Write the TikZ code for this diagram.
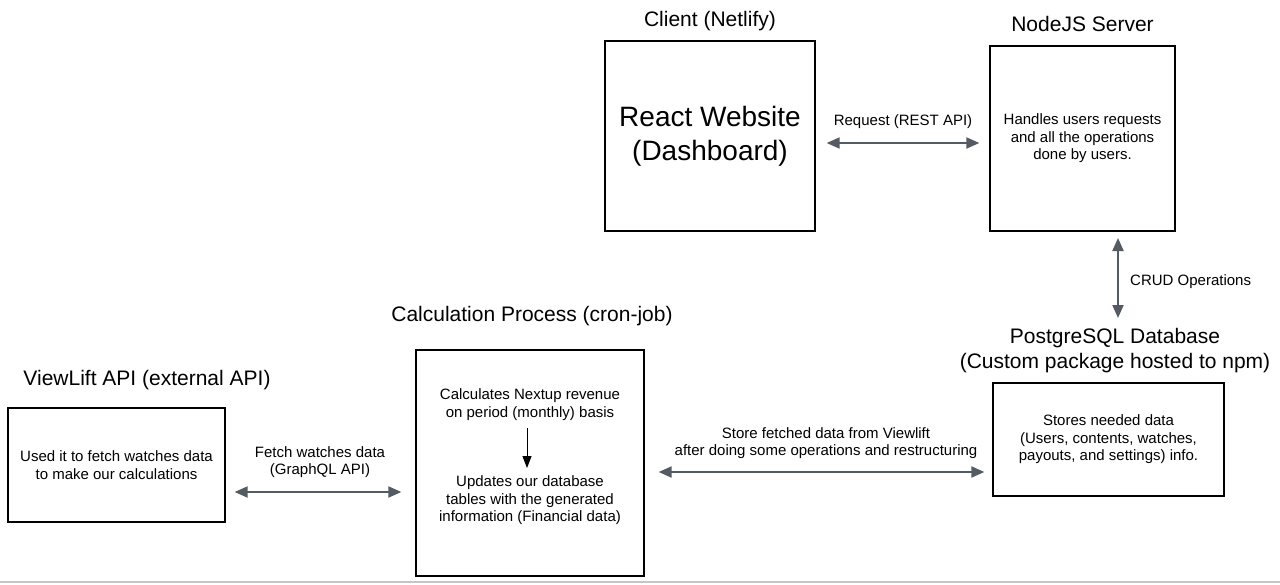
\documentclass[tikz,border=0pt]{standalone}
\usepackage{fontspec}
\setmainfont{Liberation Sans}
\usetikzlibrary{arrows.meta}
\definecolor{arrowgray}{HTML}{555B62}
\tikzset{
  box/.style={draw=black, line width=1.3pt, inner sep=0pt, align=center},
  small/.style={font=\fontsize{15}{17.5}\selectfont, align=center, inner sep=0pt},
  title/.style={font=\fontsize{21}{25}\selectfont, align=center, inner sep=0pt},
  conn/.style={draw=arrowgray, line width=2pt,
    {Triangle[width=11pt,length=13pt]}-{Triangle[width=11pt,length=13pt]}},
  inner arrow/.style={draw=black, line width=1pt, -{Triangle[width=9pt,length=12pt]}}
}
\begin{document}
\begin{tikzpicture}[x=1pt,y=-1pt]
\useasboundingbox (0,0) rectangle (1280,584);
\fill[white] (0,0) rectangle (1280,584);
\draw[gray!45, line width=2pt] (0,582) -- (1280,582);

% Client
\node[title] (clienttitle) at (710,21) {Client (Netlify)};
\node[box, minimum width=210pt, minimum height=190pt,
      font=\fontsize{28}{34}\selectfont] (client) at (710,136) {React Website\\(Dashboard)};

% Server
\node[title] (servertitle) at (1082.5,24) {NodeJS Server};
\node[box, minimum width=185pt, minimum height=185pt,
      font=\fontsize{15}{17.5}\selectfont] (server) at (1082.5,138.5)
  {Handles users requests\\and all the operations\\done by users.};

% Request arrow
\draw[conn, shorten <=11pt, shorten >=10pt] (client.east |- 0,143) -- (server.west |- 0,143);
\node[small] (reqlabel) at (903,122) {Request (REST API)};

% Database
\node[title] (dbtitle) at (1115,350.5) {PostgreSQL Database\\(Custom package hosted to npm)};
\node[box, minimum width=231pt, minimum height=113pt,
      font=\fontsize{15}{17.5}\selectfont] (db) at (1108.5,439.5)
  {Stores needed data\\(Users, contents, watches,\\payouts, and settings) info.};

% CRUD arrow
\coordinate (crudtop) at (1118,231);
\coordinate (crudbot) at (1118,325);
\draw[conn, shorten <=7pt, shorten >=7pt] (crudtop) -- (crudbot);
\node[small, anchor=west] (crudlabel) at (1130,282) {CRUD Operations};

% Calculation process
\node[title] (calctitle) at (532,316) {Calculation Process (cron-job)};
\node[box, minimum width=228pt, minimum height=226pt] (calc) at (530,463) {};
\node[small] (calc1) at (530,404.5) {Calculates Nextup revenue\\on period (monthly) basis};
\node[small] (calc2) at (530,500.5) {Updates our database\\tables with the generated\\information (Financial data)};
\draw[inner arrow] (527,428) -- (527,468);

% Store arrow
\draw[conn, shorten <=14pt, shorten >=8pt] (calc.east |- 0,472) -- (db.west |- 0,472);
\node[small] (storelabel) at (826,443) {Store fetched data from Viewlift\\after doing some operations and restructuring};

% ViewLift
\node[title] (vltitle) at (147,380) {ViewLift API (external API)};
\node[box, minimum width=217pt, minimum height=114pt,
      font=\fontsize{15}{17.5}\selectfont] (vl) at (116.5,465)
  {Used it to fetch watches data\\to make our calculations};

% Fetch arrow
\draw[conn, shorten <=9pt, shorten >=14pt] (vl.east |- 0,492) -- (calc.west |- 0,492);
\node[small] (fetchlabel) at (320,462) {Fetch watches data\\(GraphQL API)};
\end{tikzpicture}
\end{document}
